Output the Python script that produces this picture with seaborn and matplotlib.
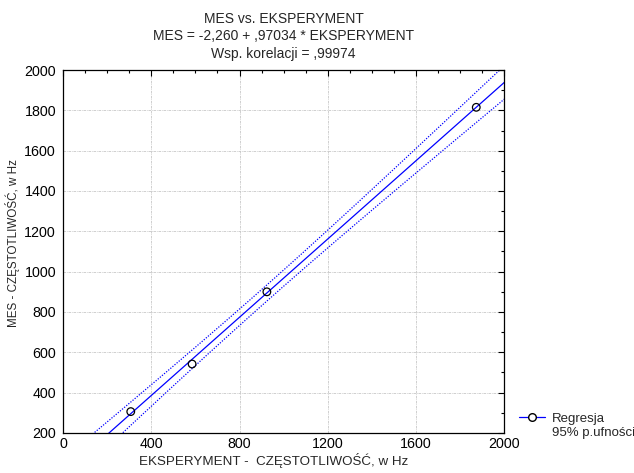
import numpy as np
import pandas as pd
import matplotlib
matplotlib.use("Agg")
import matplotlib.pyplot as plt
from matplotlib.lines import Line2D
from matplotlib.ticker import MultipleLocator
import seaborn as sns

# values
eksperyment = [307, 585, 924, 1873]
mes = [306, 542, 900, 1815]
intercept = -2.260
slope = 0.97034

df = pd.DataFrame({"EKSPERYMENT": eksperyment, "MES": mes})

sns.set_style("white")
plt.rcParams["font.family"] = ["Liberation Sans", "DejaVu Sans"]
plt.rcParams["font.size"] = 9

fig = plt.figure(figsize=(6.34, 4.73), dpi=100)
ax = fig.add_axes([0.0994, 0.0846, 0.696, 0.7674])

# regression line and 95% confidence band for the mean
x = df["EKSPERYMENT"].to_numpy(float)
y = df["MES"].to_numpy(float)
n = len(x)
resid = y - (intercept + slope * x)
s = np.sqrt((resid ** 2).sum() / (n - 2))
t = 4.303  # t(0.975, df=2)
xs = np.linspace(0, 2000, 400)
yfit = intercept + slope * xs
half = t * s * np.sqrt(1 / n + (xs - x.mean()) ** 2 / ((x - x.mean()) ** 2).sum())

ax.plot(xs, yfit, color="#0000ff", lw=0.9)
ax.plot(xs, yfit + half, color="#0000ff", lw=0.9, ls=(0, (1, 1.2)))
ax.plot(xs, yfit - half, color="#0000ff", lw=0.9, ls=(0, (1, 1.2)))

sns.scatterplot(data=df, x="EKSPERYMENT", y="MES", ax=ax, marker="o", s=30,
                facecolor="none", edgecolor="black", linewidth=0.9, zorder=5)

ax.set_xlim(0, 2000)
ax.set_ylim(200, 2000)
ax.xaxis.set_major_locator(MultipleLocator(400))
ax.xaxis.set_minor_locator(MultipleLocator(100))
ax.yaxis.set_major_locator(MultipleLocator(200))
ax.yaxis.set_minor_locator(MultipleLocator(100))
ax.tick_params(which="both", direction="in", top=True, right=True, colors="black",
               labelsize=10.3)
ax.tick_params(which="major", length=4, width=0.8)
ax.tick_params(which="minor", length=2.5, width=0.8)
ax.tick_params(axis="x", pad=3)
ax.tick_params(axis="y", pad=5)
for sp in ax.spines.values():
    sp.set_color("black")
    sp.set_linewidth(0.9)
ax.grid(True, which="major", color="#c8c8c8", ls=(0, (3, 1, 1, 1)), lw=0.6)
ax.set_axisbelow(True)

ax.set_xlabel("EKSPERYMENT -  CZĘSTOTLIWOŚĆ, w Hz", fontsize=9.6, labelpad=0)
ax.xaxis.set_label_coords(0.478, -0.055)
ax.set_ylabel("MES - CZĘSTOTLIWOŚĆ, w Hz", fontsize=8.4)
ax.yaxis.set_label_coords(-0.097, 0.523)
ax.set_title("MES vs. EKSPERYMENT\nMES = -2,260 + ,97034 * EKSPERYMENT\nWsp. korelacji = ,99974",
             fontsize=10, linespacing=1.28, pad=9)

handle = Line2D([0], [0], color="#0000ff", lw=0.9, marker="o", markersize=5.5,
                markerfacecolor="white", markeredgecolor="black")
blank = Line2D([0], [0], color="none", lw=0)
fig.legend([handle, blank], ["Regresja", "95% p.ufności"], loc="center left",
           bbox_to_anchor=(0.80, 0.10), frameon=False, fontsize=9.5,
           handlelength=2.0, handletextpad=0.5, labelspacing=0.1)

fig.savefig("out.png", dpi=100)
